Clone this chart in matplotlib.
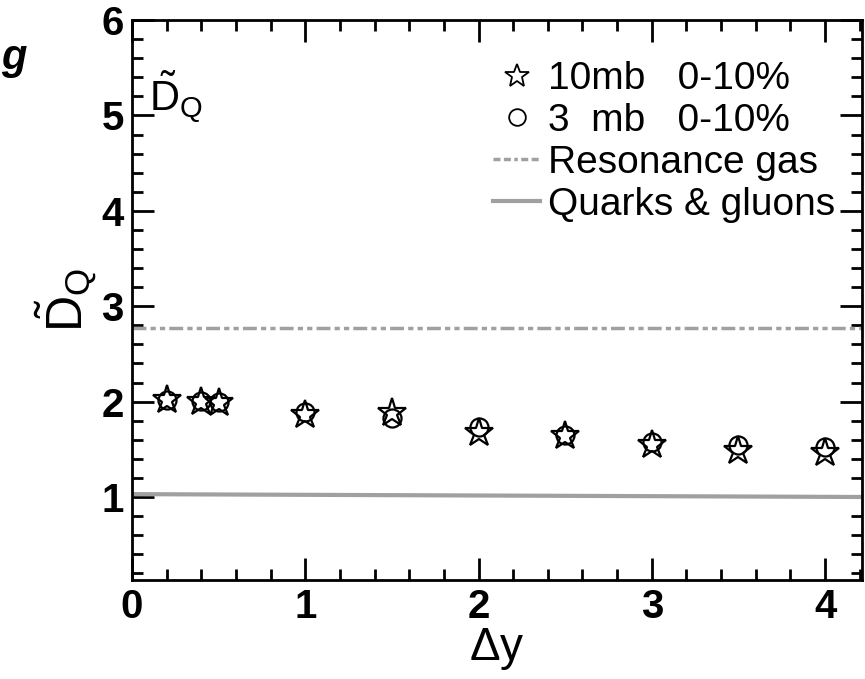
import matplotlib
matplotlib.use("Agg")
import matplotlib.pyplot as plt
from matplotlib.lines import Line2D
from matplotlib.ticker import MultipleLocator

plt.rcParams['font.family'] = ['Liberation Sans', 'DejaVu Sans']
plt.rcParams['mathtext.fontset'] = 'custom'
plt.rcParams['mathtext.rm'] = 'Liberation Sans'
plt.rcParams['mathtext.it'] = 'Liberation Sans:italic'

dy = [0.2, 0.4, 0.5, 1.0, 1.5, 2.0, 2.5, 3.0, 3.5, 4.0]
d_10mb = [2.02, 2.00, 1.99, 1.86, 1.88, 1.67, 1.64, 1.55, 1.48, 1.46]
d_3mb = [2.02, 2.01, 2.00, 1.89, 1.83, 1.73, 1.65, 1.58, 1.55, 1.52]
res_x = [0.0, 4.25]
res_y = [2.77, 2.77]
qg_x = [0.0, 4.25]
qg_y = [1.03, 1.00]

labels = ['10mb   0-10%', '3  mb   0-10%', 'Resonance gas', 'Quarks & gluons']

fig = plt.figure(figsize=(8.65, 6.79), dpi=100)
ax = fig.add_axes([0.1526, 0.1458, 0.8439, 0.8247])

ax.plot(res_x, res_y, color='#a0a0a0', lw=2.5, linestyle=(0, (4, 1.2, 1.5, 1.2, 1.5, 1.2)))
ax.plot(qg_x, qg_y, color='#a0a0a0', lw=3)
ax.plot(dy, d_3mb, linestyle='none', marker='o', ms=13, mfc='none', mec='black', mew=1.6)
ax.plot(dy, d_10mb, linestyle='none', marker='*', ms=21, mfc='none', mec='black', mew=1.6)

ax.set_xlim(0, 4.213)
ax.set_ylim(0.13, 6)
ax.xaxis.set_major_locator(MultipleLocator(1))
ax.xaxis.set_minor_locator(MultipleLocator(0.2))
ax.yaxis.set_major_locator(MultipleLocator(1))
ax.yaxis.set_minor_locator(MultipleLocator(0.2))
ax.tick_params(which='both', direction='in', top=True, right=True, width=2)
ax.tick_params(which='major', length=16, labelsize=29, pad=6)
ax.tick_params(which='minor', length=8)
for lab in ax.get_xticklabels() + ax.get_yticklabels():
    lab.set_fontweight('bold')
ax.set_yticks([1, 2, 3, 4, 5, 6])
for s in ax.spines.values():
    s.set_linewidth(2)

ax.set_xlabel(r'$\Delta$y', fontsize=33, labelpad=0)
ax.set_ylabel(r'$\tilde{\mathrm{D}}_{\mathrm{Q}}$', fontsize=36, labelpad=2)
ax.text(0.1, 5.2, r'$\tilde{\mathrm{D}}_{\mathrm{Q}}$', fontsize=30, ha='left', va='center')

handles = [
    Line2D([], [], linestyle='none', marker='*', ms=18, mfc='none', mec='black', mew=1.3),
    Line2D([], [], linestyle='none', marker='o', ms=12, mfc='none', mec='black', mew=1.3),
    Line2D([], [], color='#a0a0a0', lw=2.5, linestyle=(0, (2, 1, 2, 1, 1, 1))),
    Line2D([], [], color='#a0a0a0', lw=3),
]
ax.legend(handles, labels, loc='upper right', bbox_to_anchor=(1.0, 0.975), frameon=False,
          fontsize=28, handlelength=1.2, handletextpad=0.2, labelspacing=0.15, borderpad=0.2)

fig.text(0.001, 0.915, 'g', fontsize=30, fontweight='bold', fontstyle='italic', ha='left', va='center')

fig.savefig('out.png', dpi=100)
